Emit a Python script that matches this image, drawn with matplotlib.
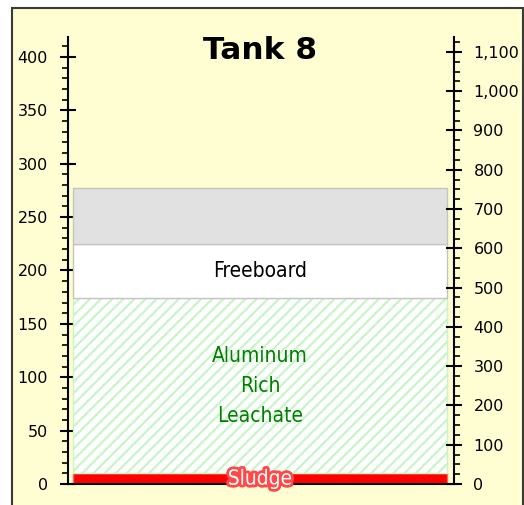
import matplotlib
matplotlib.use("Agg")
import matplotlib.pyplot as plt
import matplotlib.patheffects as pe
from matplotlib.patches import Rectangle
from matplotlib.ticker import MultipleLocator, StrMethodFormatter

# tank levels (inches), stacked from the bottom
layers = ["Sludge", "Aluminum\nRich\nLeachate", "Freeboard", ""]
heights = [10, 164, 51, 52]
faces = ["#ff0000", "#ffffff", "#ffffff", "#e1e1e1"]
edges = ["#ff6060", "#c8f5c8", "#c4c4c4", "#c4c4c4"]
hatches = [None, "///", None, None]
text_colors = ["white", "#008000", "black", "black"]

title = "Tank 8"
left_max = 418.7
gal_per_inch = 2.718  # right axis scale

plt.rcParams["hatch.linewidth"] = 1.6
plt.rcParams["hatch.color"] = "#c8f5c8"

fig = plt.figure(figsize=(5.24, 5.05), dpi=100)
fig.patch.set_facecolor("white")
# yellow panel with dark border
fig.patches.append(Rectangle((12 / 524, -0.05), (523 - 12) / 524, 1.05 - 8 / 505,
                             transform=fig.transFigure, facecolor="#fffed2",
                             edgecolor="#3a3a3a", linewidth=1.5, zorder=-10))

ax = fig.add_axes([68 / 524, 1 - 484 / 505, (454 - 68) / 524, (484 - 37) / 505])
ax.set_facecolor("none")

bottom = 0
for name, h, fc, ec, hat, tc in zip(layers, heights, faces, edges, hatches, text_colors):
    ax.bar(0, h, width=1, bottom=bottom, color=fc, edgecolor=ec, hatch=hat,
           linewidth=1.0, zorder=2)
    if name:
        kw = dict(ha="center", va="center", color=tc, fontsize=15,
                  family="DejaVu Sans", fontstretch="condensed",
                  fontweight="medium", zorder=5, linespacing=1.62)
        if name == "Sludge":
            t = ax.text(0, bottom + h / 2, name, **kw)
            t.set_path_effects([pe.withStroke(linewidth=4, foreground="#ff4848")])
        else:
            ax.text(0, bottom + h / 2, name, **kw)
    bottom += h

ax.set_xlim(-0.5134, 0.5187)
ax.set_ylim(0, left_max)
ax.set_xticks([])
ax.spines["top"].set_visible(False)
ax.spines["right"].set_visible(False)
ax.spines["left"].set_linewidth(1.5)
ax.spines["bottom"].set_linewidth(1.5)

ax.yaxis.set_major_locator(MultipleLocator(50))
ax.yaxis.set_minor_locator(MultipleLocator(10))
ax.tick_params(axis="y", which="major", direction="inout", length=12, width=1.5,
               labelsize=11.5, pad=8.5)
ax.tick_params(axis="y", which="minor", direction="out", length=4, width=1.2)

ax2 = ax.twinx()
ax2.set_ylim(0, left_max * gal_per_inch)
for s in ["top", "left", "bottom"]:
    ax2.spines[s].set_visible(False)
ax2.spines["right"].set_linewidth(1.5)
ax2.yaxis.set_major_locator(MultipleLocator(100))
ax2.yaxis.set_minor_locator(MultipleLocator(25))
ax2.yaxis.set_major_formatter(StrMethodFormatter("{x:,.0f}"))
ax2.tick_params(axis="y", which="major", direction="inout", length=12, width=1.5,
                labelsize=11.5, pad=8)
ax2.tick_params(axis="y", which="minor", direction="out", length=4, width=1.2)

ax.text(0, 406, title, ha="center", va="center", fontsize=22.5, fontweight="bold",
        zorder=5)

fig.savefig("out.png", dpi=100, facecolor=fig.get_facecolor())
